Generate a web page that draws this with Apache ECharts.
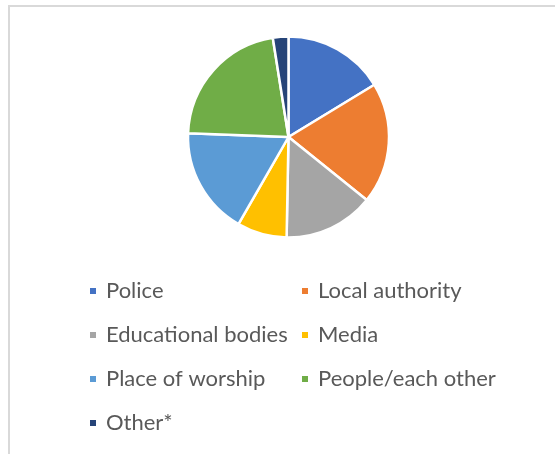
<!DOCTYPE html>
<html>
<head>
<meta charset="utf-8">
<script src="https://cdn.jsdelivr.net/npm/echarts@6/dist/echarts.min.js"></script>
<style>
  html, body { margin: 0; padding: 0; background: #fff; }
  #main { width: 555px; height: 454px; }
</style>
</head>
<body>
<div id="main"></div>
<script>
// slice names and shares (clockwise from 12 o'clock)
const categories = ['Police', 'Local authority', 'Educational bodies', 'Media', 'Place of worship', 'People/each other', 'Other*']
const values = [16.3, 19.5, 14.5, 8, 17.3, 21.9, 2.5]
const colors = ['#4472C4', '#ED7D31', '#A5A5A5', '#FFC000', '#5B9BD5', '#70AD47', '#264478']

// legend is laid out in two columns
const legendCol1 = ['Police', 'Educational bodies', 'Place of worship', 'Other*']
const legendCol2 = ['Local authority', 'Media', 'People/each other']

const chart = echarts.init(document.getElementById('main'), null, { renderer: 'canvas' })

function makeLegend(names, left) {
  return {
    data: names,
    orient: 'vertical',
    left: left,
    top: 280,
    padding: 0,
    itemGap: 22,
    itemWidth: 8,
    itemHeight: 8,
    icon: 'rect',
    textStyle: {
      fontFamily: 'Lato',
      fontSize: 22,
      lineHeight: 22,
      color: '#595959',
      padding: [0, 0, 0, 4]
    }
  }
}

let option = {
  animation: false,
  backgroundColor: '#fff',
  color: colors,
  legend: [makeLegend(legendCol1, 88), makeLegend(legendCol2, 300)],
  graphic: [{
    type: 'polyline',
    shape: { points: [[9, 454], [9, 6], [555, 6]] },
    style: { stroke: '#d9d9d9', lineWidth: 2, fill: null },
    silent: true
  }],
  series: [{
    type: 'pie',
    center: [288.5, 137],
    radius: 100.5,
    startAngle: 90,
    clockwise: true,
    label: { show: false },
    labelLine: { show: false },
    itemStyle: { borderColor: '#fff', borderWidth: 2.5 },
    emphasis: { disabled: true },
    data: categories.map((name, i) => ({ name: name, value: values[i] }))
  }]
}

chart.setOption(option)
</script>
</body>
</html>
